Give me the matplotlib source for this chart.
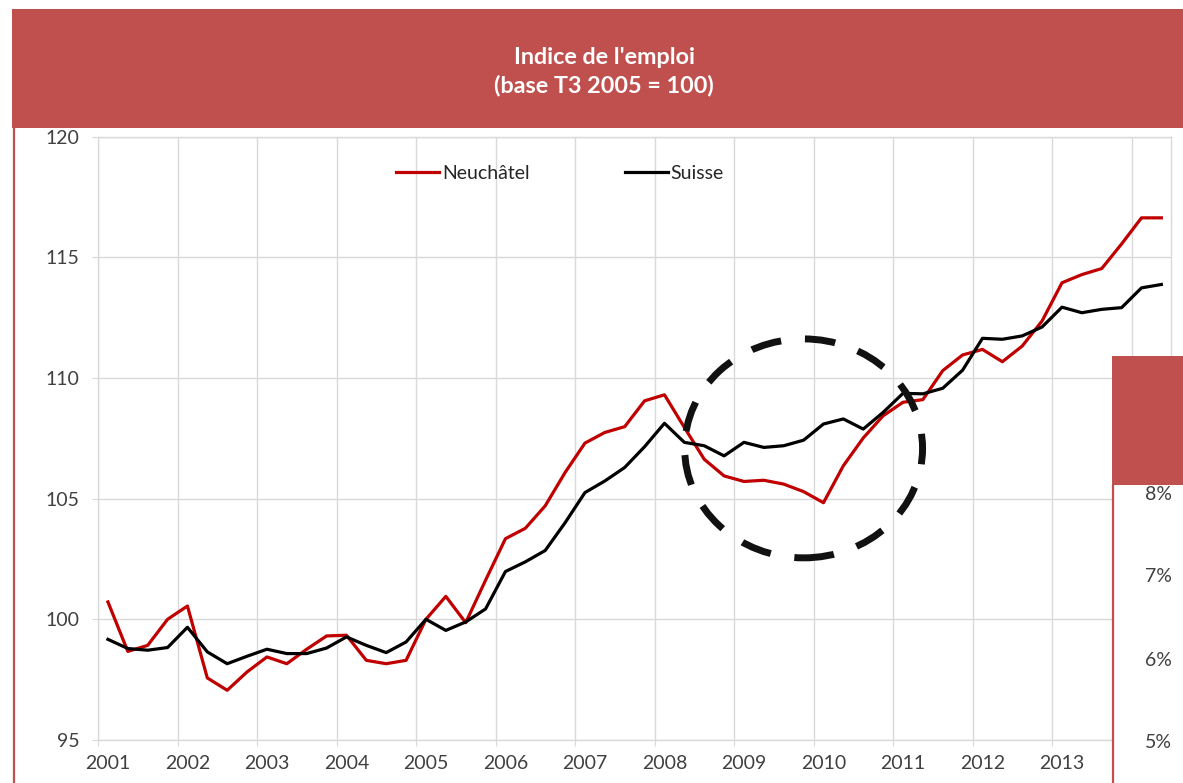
import matplotlib
matplotlib.use('Agg')
import matplotlib.pyplot as plt
from matplotlib.patches import Ellipse, Rectangle
from matplotlib.lines import Line2D

plt.rcParams['font.family'] = ['Lato', 'DejaVu Sans']

# quarterly employment index (base T3 2005 = 100)
years = ['2001', '2002', '2003', '2004', '2005', '2006', '2007',
         '2008', '2009', '2010', '2011', '2012', '2013']
neuchatel = [100.72, 98.67, 98.92, 100.00, 100.55, 97.57, 97.06, 97.82, 98.44, 98.16,
             98.76, 99.31, 99.34, 98.30, 98.16, 98.30, 100.00, 100.95, 99.86, 101.62,
             103.34, 103.77, 104.70, 106.08, 107.30, 107.74, 107.98, 109.05, 109.30, 107.95,
             106.63, 105.94, 105.71, 105.76, 105.60, 105.29, 104.83, 106.36, 107.51, 108.43,
             108.99, 109.10, 110.30, 110.95, 111.18, 110.67, 111.32, 112.36, 113.94, 114.28,
             114.53, 115.55, 116.63, 116.63]
suisse = [99.17, 98.79, 98.72, 98.83, 99.67, 98.65, 98.16, 98.47, 98.76, 98.58,
          98.58, 98.81, 99.27, 98.92, 98.62, 99.06, 100.00, 99.54, 99.89, 100.43,
          101.98, 102.38, 102.85, 104.00, 105.25, 105.73, 106.29, 107.15, 108.12, 107.33,
          107.19, 106.77, 107.33, 107.12, 107.19, 107.42, 108.09, 108.30, 107.88, 108.57,
          109.36, 109.34, 109.57, 110.32, 111.64, 111.60, 111.74, 112.11, 112.93, 112.70,
          112.84, 112.91, 113.73, 113.87]
right_ticks = ['8%', '7%', '6%', '5%']

RED = '#C0504D'
GRID = '#D9D9D9'
TXT = '#404040'


def main() -> None:
    W, H = 1183, 783
    fig = plt.figure(figsize=(W / 100, H / 100), dpi=100)
    fig.patch.set_facecolor('white')

    ax = fig.add_axes([98 / W, 1 - 740 / H, (1171.3 - 98) / W, (740 - 136.5) / H])
    x = list(range(len(neuchatel)))
    ax.plot(x, neuchatel, color='#C00000', lw=2.3, label='Neuchâtel', zorder=3)
    ax.plot(x, suisse, color='black', lw=2.3, label='Suisse', zorder=3)

    ax.set_xlim(-0.5, len(neuchatel) - 0.5)
    ax.set_ylim(95, 120)
    ax.set_yticks(range(95, 121, 5))
    ax.set_xticks([-0.5 + 4 * k for k in range(len(years) + 1)])
    ax.set_xticklabels([])
    ax.set_xticks([4 * k for k in range(len(years))], minor=True)
    ax.set_xticklabels(years, minor=True)
    ax.tick_params(axis='x', which='major', length=4, color=GRID, direction='out')
    ax.tick_params(axis='x', which='minor', length=0, pad=11, labelsize=14, labelcolor=TXT)
    ax.tick_params(axis='y', length=4.5, color=GRID, pad=9, labelsize=14, labelcolor=TXT)
    ax.grid(True, which='major', color=GRID, lw=1)
    ax.set_axisbelow(True)
    for sp in ax.spines.values():
        sp.set_color(GRID)
        sp.set_linewidth(1)

    ax.legend(loc='center', bbox_to_anchor=(0.4305, 0.9395), ncol=2, frameon=False,
              fontsize=14, handlelength=2.2, handletextpad=0.15, columnspacing=4.9,
              labelcolor='#262626')

    # dashed circle highlighting the 2009-2010 gap
    circle = Ellipse((35.0, 107.08), 11.97, 9.07, fill=False, edgecolor='#111111',
                     lw=5, linestyle=(0.0, (4.4, 3.45)), zorder=4)
    ax.add_patch(circle)

    # title banner
    fig.add_artist(Rectangle((12 / W, 1 - 128 / H), 1 - 12 / W, 119 / H,
                             transform=fig.transFigure, color=RED, lw=0, zorder=5))
    fig.add_artist(Line2D([13.5 / W, 13.5 / W], [0, 1 - 128 / H], transform=fig.transFigure,
                          color=RED, lw=1.6, zorder=5))
    fig.text(604 / W, 1 - 57 / H, "Indice de l'emploi", color='white', fontsize=16.8,
             fontweight='bold', ha='center', va='center', zorder=6)
    fig.text(604 / W, 1 - 85 / H, '(base T3 2005 = 100)', color='white', fontsize=16.8,
             fontweight='bold', ha='center', va='center', zorder=6)

    # edge of the next chart peeking in on the right
    fig.add_artist(Rectangle((1112 / W, 0), 1 - 1112 / W, 1 - 356 / H,
                             transform=fig.transFigure, facecolor='white', lw=0, zorder=5))
    fig.add_artist(Rectangle((1112 / W, 1 - 485 / H), 1 - 1112 / W, 129 / H,
                             transform=fig.transFigure, color=RED, lw=0, zorder=5))
    fig.add_artist(Line2D([1113 / W, 1113 / W], [0, 1 - 485 / H], transform=fig.transFigure,
                          color=RED, lw=1.6, zorder=5))
    for lab, yy in zip(right_ticks, [495, 577, 660, 743]):
        fig.text(1158 / W, 1 - yy / H, lab, color=TXT, fontsize=14,
                 ha='center', va='center', zorder=6)

    fig.savefig('out.png', dpi=100)


if __name__ == '__main__':
    main()
